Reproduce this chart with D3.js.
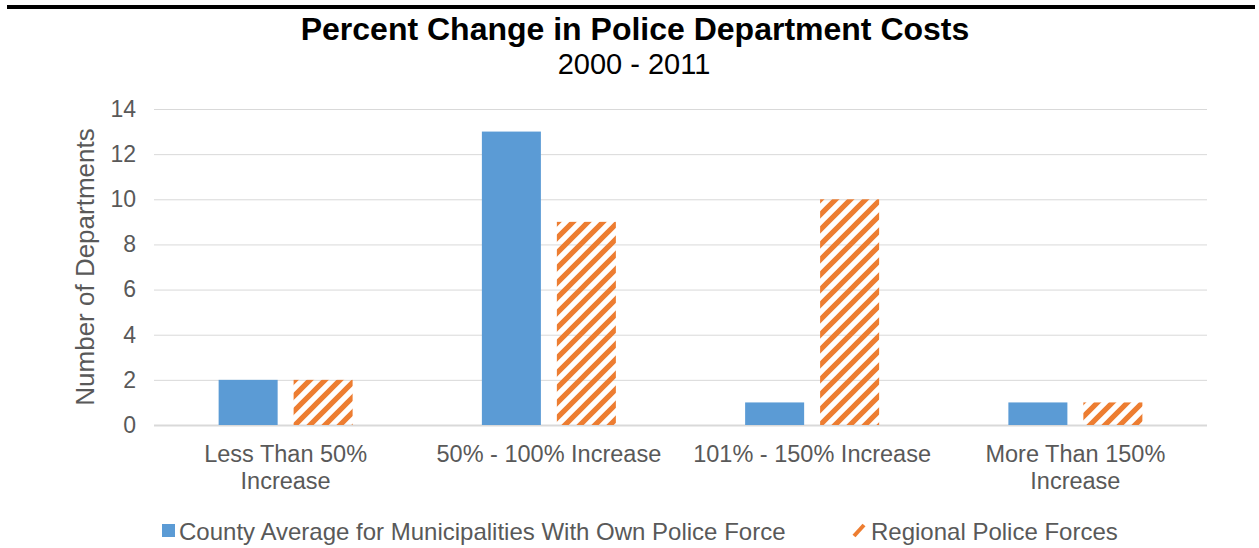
<!DOCTYPE html>
<html>
<head>
<meta charset="utf-8">
<script src="https://cdn.jsdelivr.net/npm/d3@7/dist/d3.min.js"></script>
<style>
  html, body { margin: 0; padding: 0; background: #fff; }
  svg { display: block; font-family: "Liberation Sans", Arial, sans-serif; }
</style>
</head>
<body>
<svg id="chart" width="1259" height="548"></svg>
<script>
// Cost-change buckets and department counts
const categories = [
  ["Less Than 50%", "Increase"],
  ["50% - 100% Increase"],
  ["101% - 150% Increase"],
  ["More Than 150%", "Increase"]
];
const seriesNames = [
  "County Average for Municipalities With Own Police Force",
  "Regional Police Forces"
];
const countyValues = [2, 13, 1, 1];
const regionalValues = [2, 9, 10, 1];
const yTicks = [0, 2, 4, 6, 8, 10, 12, 14];

const plot = { left: 154, right: 1207, top: 109, bottom: 425 };

const svg = d3.select("#chart");

// Diagonal hatch used for the regional series
const defs = svg.append("defs");
const pat = defs.append("pattern")
  .attr("id", "hatch")
  .attr("patternUnits", "userSpaceOnUse")
  .attr("width", 15).attr("height", 15);
pat.append("path")
  .attr("d", "M-4,4 L4,-4 M0,15 L15,0 M11,19 L19,11")
  .attr("stroke", "#ED7D31").attr("stroke-width", 5.2)
  .attr("stroke-linecap", "square");

// Rule across the top of the page
svg.append("rect").attr("x", 7).attr("y", 5).attr("width", 1248).attr("height", 4).attr("fill", "#000");

// Titles
svg.append("text").attr("x", 635).attr("y", 40).attr("text-anchor", "middle")
  .attr("font-size", 32).attr("font-weight", "bold").attr("fill", "#000")
  .text("Percent Change in Police Department Costs");
svg.append("text").attr("x", 634).attr("y", 74).attr("text-anchor", "middle")
  .attr("font-size", 29).attr("fill", "#000")
  .text("2000 - 2011");

const y = d3.scaleLinear().domain([0, 14]).range([plot.bottom, plot.top]);
const x0 = d3.scaleBand().domain(d3.range(categories.length))
  .range([plot.left, plot.right]).paddingInner(0.491).paddingOuter(0.2455);
const x1 = d3.scaleBand().domain([0, 1]).range([0, x0.bandwidth()]).paddingInner(0.213);

// Gridlines and value ticks
const yAxis = d3.axisLeft(y).tickValues(yTicks)
  .tickSize(-(plot.right - plot.left)).tickPadding(18);
const gy = svg.append("g").attr("transform", `translate(${plot.left},0)`).call(yAxis);
gy.select(".domain").remove();
gy.selectAll(".tick line").attr("stroke", "#d9d9d9").attr("stroke-width", 1);
gy.selectAll(".tick text").attr("font-size", 23).attr("fill", "#595959")
  .attr("font-family", "Liberation Sans, Arial, sans-serif");
gy.selectAll(".tick").filter(d => d === 0).select("line").attr("stroke-width", 2);

// Y axis title
svg.append("text")
  .attr("transform", `translate(94,${(plot.top + plot.bottom) / 2}) rotate(-90)`)
  .attr("text-anchor", "middle").attr("font-size", 26).attr("fill", "#595959")
  .text("Number of Departments");

// Bars
const series = [countyValues, regionalValues];
const fills = ["#5B9BD5", "url(#hatch)"];
series.forEach((vals, si) => {
  svg.append("g").selectAll("rect").data(vals).join("rect")
    .attr("x", (d, i) => x0(i) + x1(si))
    .attr("width", x1.bandwidth())
    .attr("y", d => y(d))
    .attr("height", d => y(0) - y(d))
    .attr("fill", fills[si]);
});

// Category labels
const xAxis = svg.append("g");
categories.forEach((lines, i) => {
  const cx = x0(i) + x0.bandwidth() / 2;
  const t = xAxis.append("text")
    .attr("x", cx).attr("y", 462)
    .attr("text-anchor", "middle").attr("font-size", 23.5).attr("fill", "#595959");
  lines.forEach((ln, k) => {
    t.append("tspan").attr("x", cx).attr("dy", k === 0 ? 0 : 27).text(ln);
  });
});

// Legend
const legend = svg.append("g");
legend.append("rect").attr("x", 162).attr("y", 524).attr("width", 13).attr("height", 13).attr("fill", "#5B9BD5");
legend.append("text").attr("x", 179).attr("y", 540).attr("font-size", 24).attr("fill", "#595959").text(seriesNames[0]);
legend.append("path").attr("d", "M854,536 L864,525").attr("stroke", "#ED7D31").attr("stroke-width", 4);
legend.append("text").attr("x", 871).attr("y", 540).attr("font-size", 24).attr("fill", "#595959").text(seriesNames[1]);
</script>
</body>
</html>
